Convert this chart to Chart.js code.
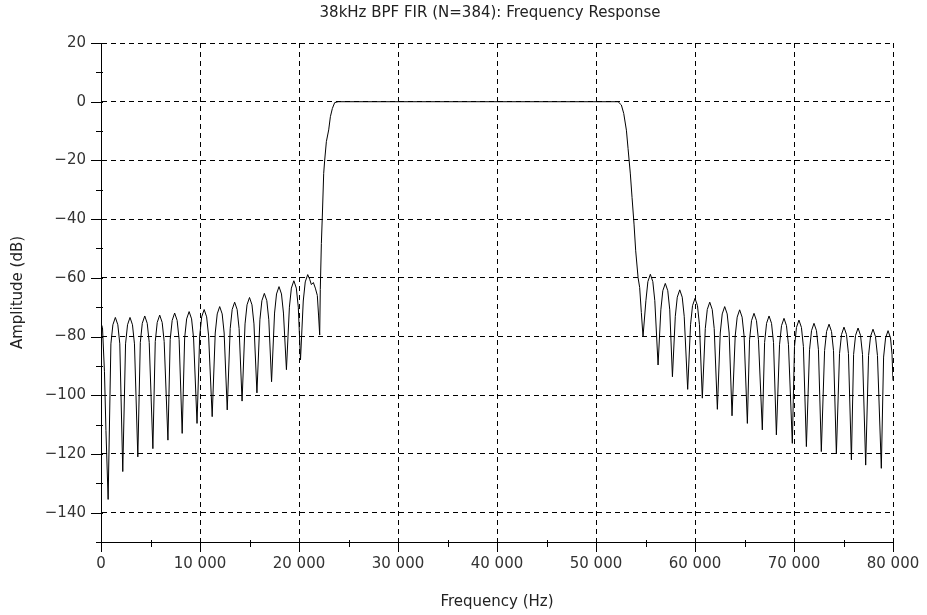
<!DOCTYPE html>
<html>
<head>
<meta charset="utf-8">
<script src="https://cdn.jsdelivr.net/npm/chart.js@4.4.1/dist/chart.umd.min.js"></script>
<style>
  html, body { margin: 0; padding: 0; background: #fff; }
  canvas { display: block; }
</style>
</head>
<body>
<canvas id="freqChart" width="927" height="615"></canvas>
<script>
// lower stopband (Hz / dB)
const lowStopHz = [0, 150, 350, 500, 720,
  1000, 1200, 1450, 1700, 1900, 2200,
  2480, 2680, 2930, 3180, 3380, 3720,
  3970, 4170, 4420, 4670, 4870, 5240,
  5480, 5680, 5930, 6180, 6380, 6760,
  6990, 7190, 7440, 7690, 7890, 8200,
  8450, 8650, 8900, 9150, 9350, 9700,
  9970, 10170, 10420, 10670, 10870, 11230,
  11540, 11740, 11990, 12240, 12440, 12750,
  13050, 13250, 13500, 13750, 13950, 14250,
  14550, 14750, 15000, 15250, 15450, 15750,
  16050, 16250, 16500, 16750, 16950, 17230,
  17530, 17730, 17980, 18230, 18430, 18730,
  19030, 19230, 19480, 19730, 19930, 20150,
  20430, 20630, 20880, 21080, 21250, 21450, 21650, 21850, 21980, 22090];
const lowStopDb = [-75.5, -77, -92, -112, -135.5,
  -82.5, -76, -73.5, -76, -82.5, -126,
  -82.5, -76, -73.5, -76, -82.5, -121,
  -82, -75.5, -73, -75.5, -82, -118.2,
  -81.7, -75.2, -72.7, -75.2, -81.7, -115.3,
  -81, -74.5, -72, -74.5, -81, -113,
  -80.5, -74, -71.5, -74, -80.5, -109.6,
  -79.8, -73.3, -70.8, -73.3, -79.8, -107.3,
  -78.8, -72.3, -69.8, -72.3, -78.8, -105,
  -77.3, -70.8, -68.3, -70.8, -77.3, -102,
  -75.7, -69.2, -66.7, -69.2, -75.7, -99.2,
  -74.3, -67.8, -65.3, -67.8, -74.3, -95.4,
  -72, -65.5, -63, -65.5, -72, -91.3,
  -70, -63.5, -61, -63.5, -70, -88,
  -67.9, -61.4, -58.9, -60.5, -62.3, -61.6, -63.5, -66, -73, -79.5];

// lower transition band
const lowEdgeHz = [22150, 22260, 22360, 22495, 22596, 22765, 23000, 23170, 23370, 23606, 23950];
const lowEdgeDb = [-64, -48.3, -38.6, -24.4, -19.9, -13.6, -9.6, -5.1, -2.3, -0.3, 0];

// passband
const passHz = [30000, 40000, 50000, 52230];
const passDb = [0, 0, 0, 0];

// upper transition band
const highEdgeHz = [52560, 52800, 53070, 53240, 53470, 53640, 53840, 54010, 54250, 54410, 54580, 54750];
const highEdgeDb = [-1.1, -4, -9.7, -16, -24.6, -32.6, -41.7, -50.8, -59.9, -63.3, -71.8, -80];

// upper stopband
const highStopHz = [
  55040, 55240, 55490, 55740, 55940, 56270,
  56550, 56750, 57000, 57250, 57450, 57720,
  58010, 58210, 58460, 58710, 58910, 59260,
  59550, 59750, 60000, 60250, 60450, 60740,
  61040, 61240, 61490, 61740, 61940, 62260,
  62550, 62750, 63000, 63250, 63450, 63740,
  64060, 64260, 64510, 64760, 64960, 65290,
  65510, 65710, 65960, 66210, 66410, 66800,
  67030, 67230, 67480, 67730, 67930, 68220,
  68540, 68740, 68990, 69240, 69440, 69830,
  70050, 70250, 70500, 70750, 70950, 71250,
  71570, 71770, 72020, 72270, 72470, 72760,
  73090, 73290, 73540, 73790, 73990, 74280,
  74600, 74800, 75050, 75300, 75500, 75800,
  76020, 76220, 76470, 76720, 76920, 77240,
  77530, 77730, 77980, 78230, 78430, 78820,
  79050, 79250, 79500, 79750, 79900, 80000];
const highStopDb = [
  -67.8, -61.3, -58.8, -61.3, -67.8, -89.7,
  -70.9, -64.4, -61.9, -64.4, -70.9, -93.7,
  -73.1, -66.6, -64.1, -66.6, -73.1, -98,
  -76, -69.5, -67, -69.5, -76, -101,
  -77.3, -70.8, -68.3, -70.8, -77.3, -104.8,
  -78.8, -72.3, -69.8, -72.3, -78.8, -107,
  -79.9, -73.4, -70.9, -73.4, -79.9, -109.6,
  -81.1, -74.6, -72.1, -74.6, -81.1, -111.8,
  -82, -75.5, -73, -75.5, -82, -113.5,
  -82.8, -76.3, -73.8, -76.3, -82.8, -116.4,
  -83.4, -76.9, -74.4, -76.9, -83.4, -117.5,
  -84.5, -78, -75.5, -78, -84.5, -119.2,
  -84.8, -78.3, -75.8, -78.3, -84.8, -120,
  -85.8, -79.3, -76.8, -79.3, -85.8, -122,
  -86.1, -79.6, -77.1, -79.6, -86.1, -123.8,
  -86.5, -80, -77.5, -80, -86.5, -124.9,
  -87, -80.5, -78, -80.5, -86, -95];

const xTickLabels = [0, 10000, 20000, 30000, 40000, 50000, 60000, 70000, 80000];
const yTickLabels = [20, 0, -20, -40, -60, -80, -100, -120, -140];

const TITLE = "38kHz BPF FIR (N=384): Frequency Response";
const FONT = "'DejaVu Sans', sans-serif";

const toPoints = (hz, db) => hz.map((f, i) => ({ x: f, y: db[i] }));
const response = [
  ...toPoints(lowStopHz, lowStopDb),
  ...toPoints(lowEdgeHz, lowEdgeDb),
  ...toPoints(passHz, passDb),
  ...toPoints(highEdgeHz, highEdgeDb),
  ...toPoints(highStopHz, highStopDb),
];

const spaced = (v) => String(Math.abs(v)).replace(/\B(?=(\d{3})+(?!\d))/g, " ");
const isMajorX = (v) => xTickLabels.includes(v);
const isMajorY = (v) => yTickLabels.includes(v);

// scilab-like tick marks (major long, minor short) and the title over the plot box
const axisTicks = {
  id: "axisTicks",
  afterDraw(chart) {
    const { ctx, chartArea } = chart;
    const xs = chart.scales.x;
    const ys = chart.scales.y;
    ctx.save();
    ctx.strokeStyle = "#000";
    ctx.lineWidth = 1;
    ctx.beginPath();
    xs.ticks.forEach((t) => {
      const px = Math.round(xs.getPixelForValue(t.value)) + 0.5;
      const len = isMajorX(t.value) ? 10 : 5;
      ctx.moveTo(px, chartArea.bottom - 2);
      ctx.lineTo(px, chartArea.bottom + len);
    });
    ys.ticks.forEach((t) => {
      const py = Math.round(ys.getPixelForValue(t.value)) + 0.5;
      const len = isMajorY(t.value) ? 10 : 5;
      ctx.moveTo(chartArea.left + 2, py);
      ctx.lineTo(chartArea.left - len, py);
    });
    ctx.stroke();

    ctx.fillStyle = "#222";
    ctx.font = `15px ${FONT}`;
    ctx.textAlign = "center";
    ctx.textBaseline = "middle";
    ctx.fillText(TITLE, (chartArea.left + chartArea.right) / 2 - 7, 13);
    ctx.restore();
  },
};

new Chart(document.getElementById("freqChart"), {
  type: "line",
  data: {
    datasets: [
      {
        data: response,
        borderColor: "#000",
        borderWidth: 1,
        pointRadius: 0,
        tension: 0,
        fill: false,
      },
    ],
  },
  options: {
    responsive: false,
    animation: false,
    devicePixelRatio: 1,
    layout: { padding: { left: 0, right: 34, top: 43, bottom: 0 } },
    plugins: {
      legend: { display: false },
      tooltip: { enabled: false },
      title: { display: false },
    },
    scales: {
      x: {
        type: "linear",
        min: 0,
        max: 80000,
        afterFit: (scale) => { scale.height = 73; },
        ticks: {
          stepSize: 5000,
          autoSkip: false,
          maxRotation: 0,
          padding: 5,
          color: "#333",
          font: { family: FONT, size: 15 },
          callback: (v) => (isMajorX(v) ? spaced(v) : ""),
        },
        grid: {
          drawTicks: true,
          tickLength: 8,
          tickColor: "rgba(0,0,0,0)",
          lineWidth: 1,
          color: (c) => (c.tick && isMajorX(c.tick.value) && c.tick.value !== 0 ? "#000" : "rgba(0,0,0,0)"),
        },
        border: { display: true, color: "#000", width: 1, dash: [5, 4] },
        title: {
          display: true,
          text: "Frequency (Hz)",
          color: "#222",
          font: { family: FONT, size: 15 },
          padding: { top: 0, bottom: 4 },
        },
      },
      y: {
        min: -150,
        max: 20,
        afterFit: (scale) => { scale.width = 101; },
        ticks: {
          stepSize: 10,
          autoSkip: false,
          padding: 15,
          color: "#333",
          font: { family: FONT, size: 15 },
          callback: (v) => (isMajorY(v) ? (v < 0 ? "\u2212" : "") + spaced(v) : ""),
        },
        grid: {
          drawTicks: false,
          lineWidth: 1,
          color: (c) => (c.tick && isMajorY(c.tick.value) ? "#000" : "rgba(0,0,0,0)"),
        },
        border: { display: true, color: "#000", width: 1, dash: [5, 4] },
        title: {
          display: true,
          text: "Amplitude (dB)",
          color: "#222",
          font: { family: FONT, size: 15 },
          padding: { top: 9, bottom: 0 },
        },
      },
    },
  },
  plugins: [axisTicks],
});
</script>
</body>
</html>
